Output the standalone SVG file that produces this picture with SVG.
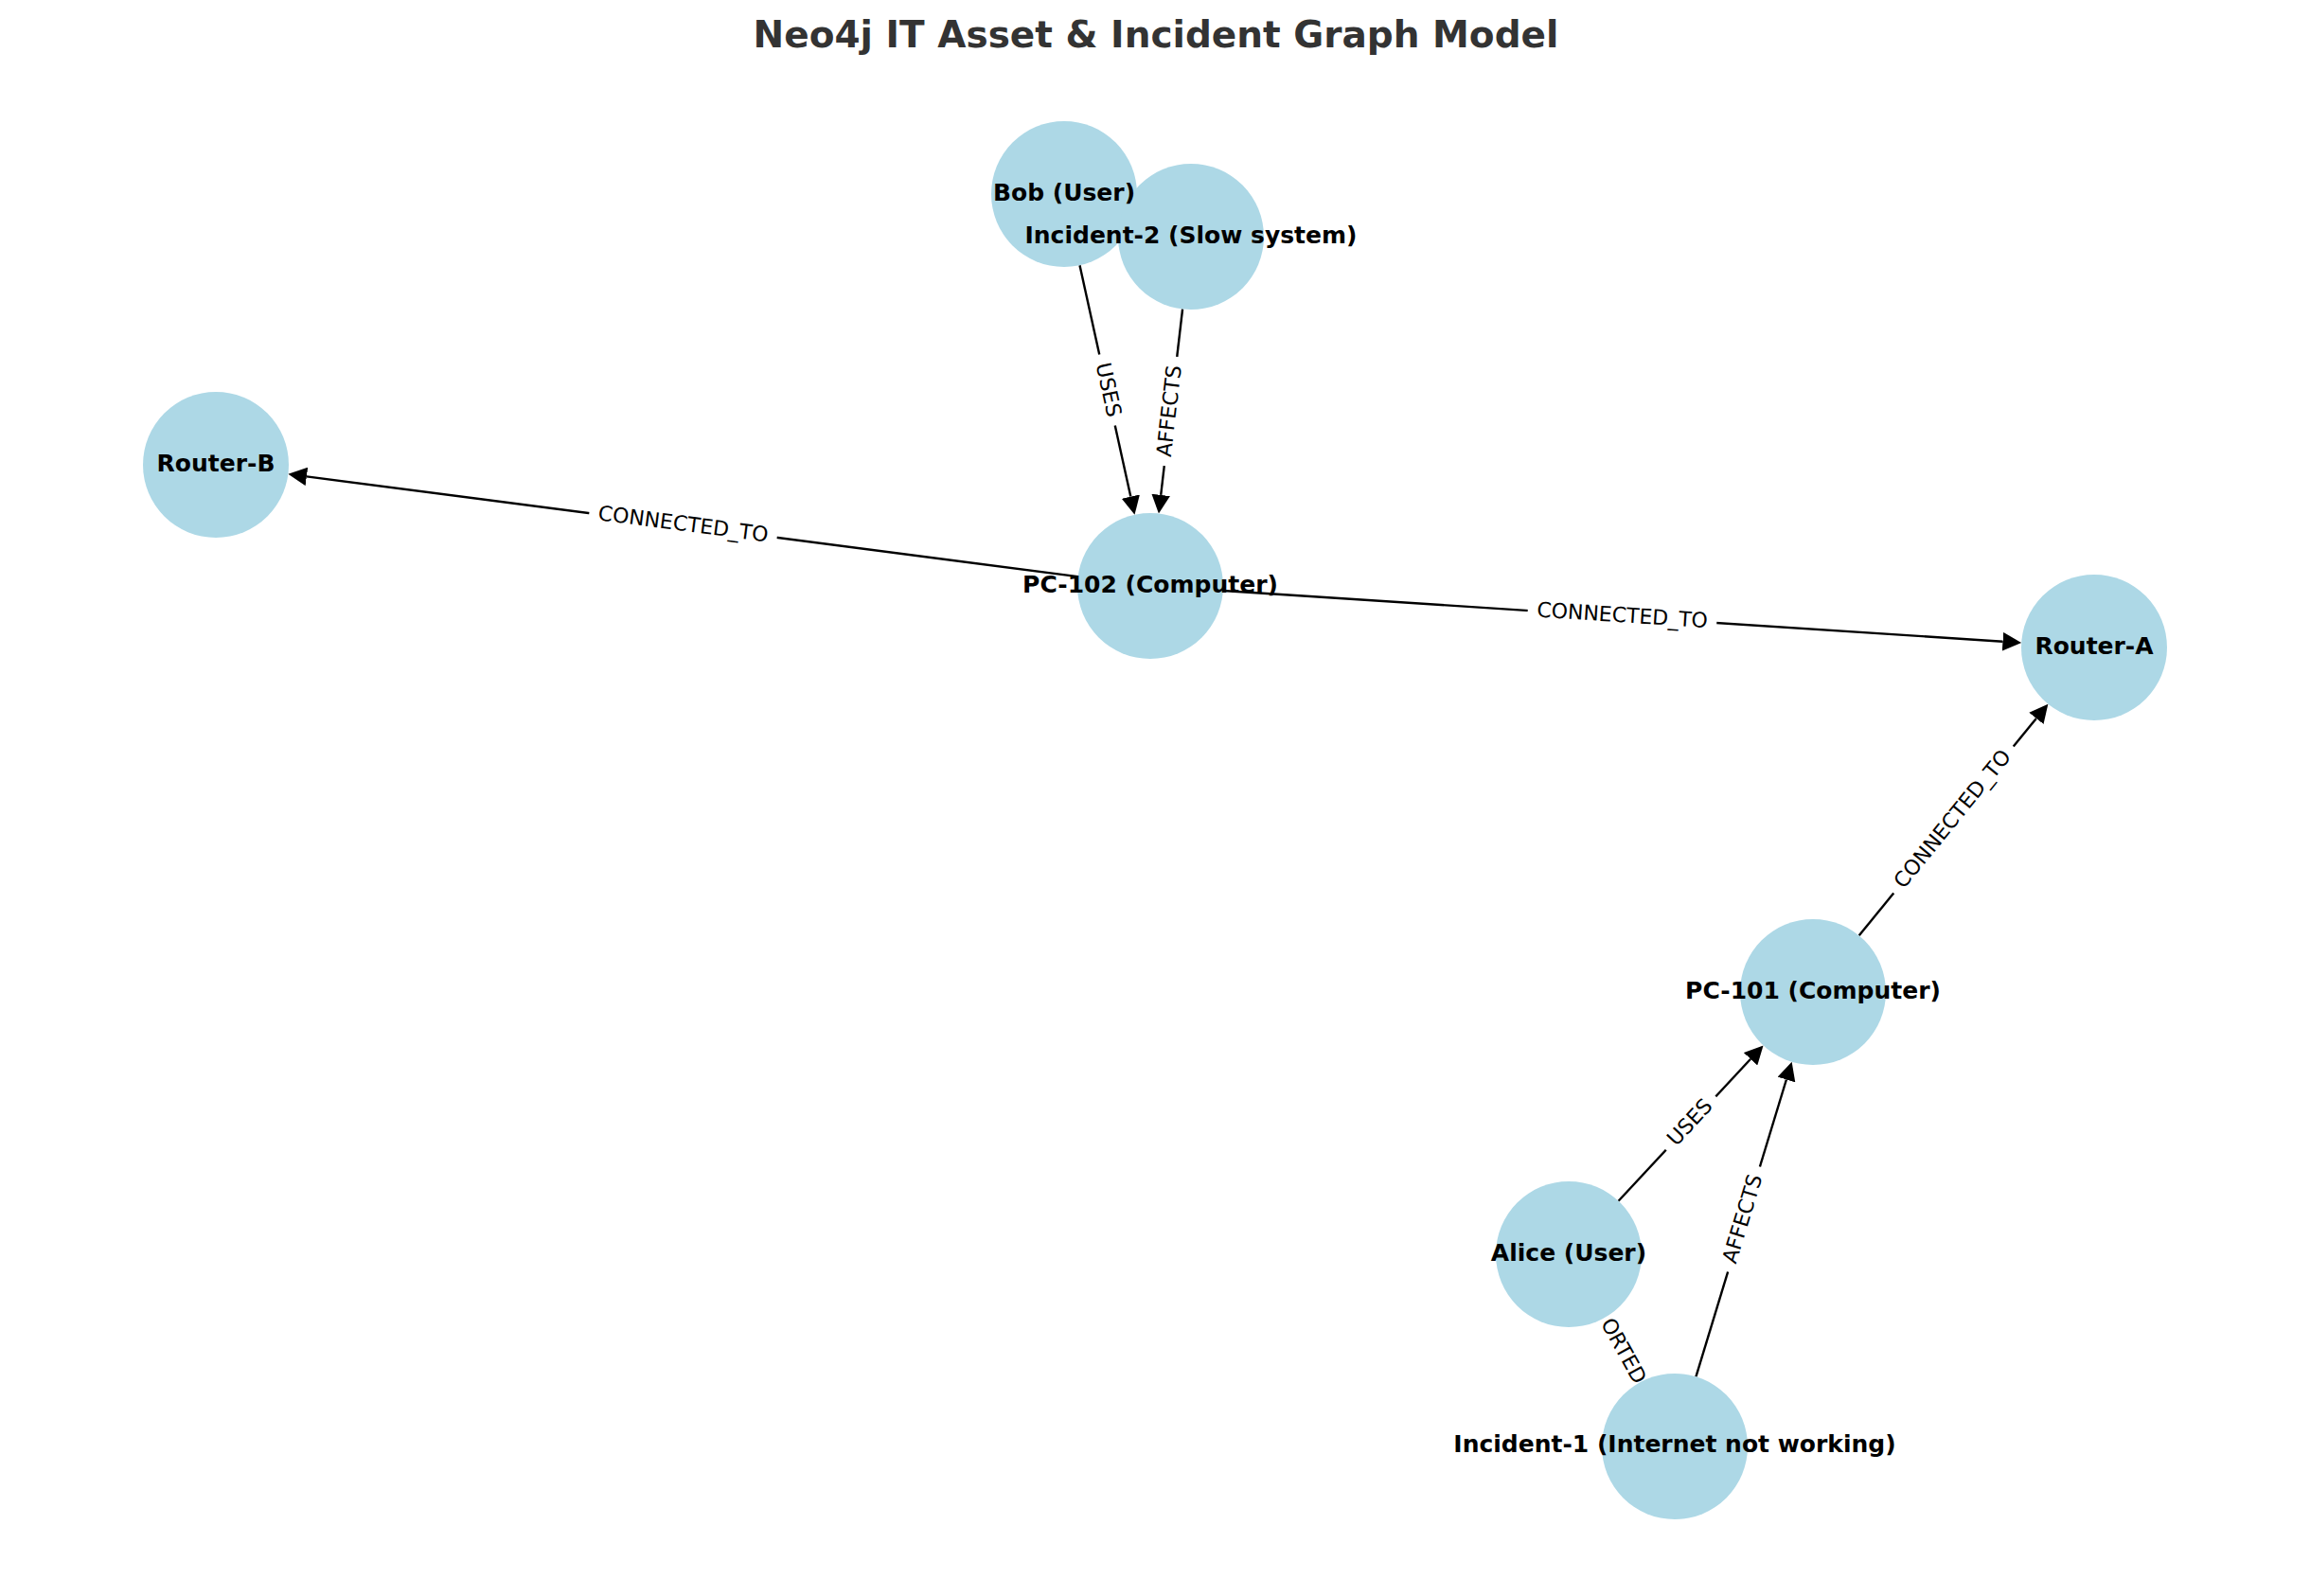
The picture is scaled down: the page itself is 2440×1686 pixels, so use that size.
<svg xmlns="http://www.w3.org/2000/svg" width="2440" height="1686" viewBox="0 0 2440 1686">
<style>
.title{font-family:"DejaVu Sans","Liberation Sans",sans-serif;font-weight:bold;font-size:39px;fill:#333333;text-anchor:middle}
.node circle{fill:#ADD8E6}
.nlabel{font-family:"DejaVu Sans","Liberation Sans",sans-serif;font-weight:bold;font-size:25px;fill:#000;text-anchor:middle}
.edge{stroke:#000;stroke-width:2.4;fill:none;marker-end:url(#head)}
.elabel{font-family:"DejaVu Sans","Liberation Sans",sans-serif;font-size:22px;fill:#000;text-anchor:middle}
.ebg{fill:#fff;stroke:none}
</style>
<defs>
<marker id="head" markerUnits="userSpaceOnUse" viewBox="0 0 19.7 19.6" markerWidth="19.7" markerHeight="19.6" refX="0" refY="9.8" orient="auto">
<path d="M0,0 L19.7,9.8 L0,19.6 Z" fill="#000"/>
</marker>
</defs>
<rect width="2440" height="1686" fill="#fff"/>
<text class="title" x="1221" y="50">Neo4j IT Asset &amp; Incident Graph Model</text>
<g id="connectors">
<line class="edge" x1="1140.5" y1="280.2" x2="1194.3" y2="524.6"/>
<line class="edge" x1="1249.1" y1="326.5" x2="1226.2" y2="522.9"/>
<line class="edge" x1="1138.6" y1="609.1" x2="323.9" y2="503.4"/>
<line class="edge" x1="1291.8" y1="624.0" x2="2115.5" y2="677.7"/>
<line class="edge" x1="1963.7" y1="988.3" x2="2150.9" y2="758.9"/>
<line class="edge" x1="1709.5" y1="1268.7" x2="1849.1" y2="1118.8"/>
<line class="edge" x1="1791.4" y1="1454.3" x2="1886.9" y2="1140.5"/>
<g transform="translate(1169.5,412) rotate(77.6)"><rect class="ebg" x="-38.5" y="-20" width="77" height="40" rx="6"/><text class="elabel" x="0" y="5.8">USES</text></g>
<g transform="translate(1236.5,434.5) rotate(-83.35)"><rect class="ebg" x="-58" y="-20" width="116" height="40" rx="6"/><text class="elabel" x="0" y="5.8">AFFECTS</text></g>
<g transform="translate(721.5,555) rotate(7.39)"><rect class="ebg" x="-100" y="-20" width="200" height="40" rx="6"/><text class="elabel" x="0" y="5.8">CONNECTED_TO</text></g>
<g transform="translate(1713.5,651.5) rotate(3.73)"><rect class="ebg" x="-100" y="-20" width="200" height="40" rx="6"/><text class="elabel" x="0" y="5.8">CONNECTED_TO</text></g>
<g transform="translate(2063.5,866) rotate(-50.79)"><rect class="ebg" x="-100" y="-20" width="200" height="40" rx="6"/><text class="elabel" x="0" y="5.8">CONNECTED_TO</text></g>
<g transform="translate(1786,1186.5) rotate(-47.03)"><rect class="ebg" x="-38.5" y="-20" width="77" height="40" rx="6"/><text class="elabel" x="0" y="5.8">USES</text></g>
<g transform="translate(1842,1288) rotate(-73.08)"><rect class="ebg" x="-58" y="-20" width="116" height="40" rx="6"/><text class="elabel" x="0" y="5.8">AFFECTS</text></g>
<g transform="translate(1713.7,1427.8) rotate(61.11)"><text class="elabel" x="0" y="5.8">ORTED</text></g>
</g>
<g id="node-bob" class="node"><circle cx="1124" cy="205" r="77"/></g>
<g id="node-incident2" class="node"><circle cx="1258" cy="250" r="77"/></g>
<g id="node-routerb" class="node"><circle cx="228" cy="491" r="77"/></g>
<g id="node-pc102" class="node"><circle cx="1215" cy="619" r="77"/></g>
<g id="node-routera" class="node"><circle cx="2212" cy="684" r="77"/></g>
<g id="node-pc101" class="node"><circle cx="1915" cy="1048" r="77"/></g>
<g id="node-alice" class="node"><circle cx="1657" cy="1325" r="77"/></g>
<g id="node-incident1" class="node"><circle cx="1769" cy="1528" r="77"/></g>
<g id="node-labels">
<text class="nlabel" x="1124" y="212">Bob (User)</text>
<text class="nlabel" x="1258" y="257">Incident-2 (Slow system)</text>
<text class="nlabel" x="228" y="498">Router-B</text>
<text class="nlabel" x="1215" y="626">PC-102 (Computer)</text>
<text class="nlabel" x="2212" y="691">Router-A</text>
<text class="nlabel" x="1915" y="1055">PC-101 (Computer)</text>
<text class="nlabel" x="1657" y="1332">Alice (User)</text>
<text class="nlabel" x="1769" y="1534">Incident-1 (Internet not working)</text>
</g>
</svg>
